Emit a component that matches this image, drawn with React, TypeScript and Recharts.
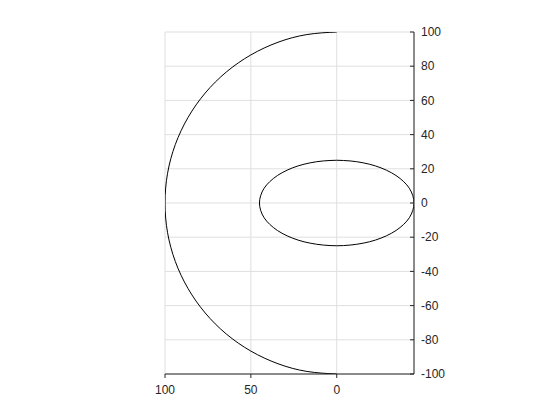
import React from 'react';
import { LineChart, Line, XAxis, YAxis, CartesianGrid } from 'recharts';

// outer arc (radius 100), drawn top to bottom through x = 100
const arcX = [0, 17.4, 34.2, 50, 64.3, 76.6, 86.6, 94.0, 98.5, 100, 98.5, 94.0, 86.6, 76.6, 64.3, 50, 34.2, 17.4, 0];
const arcY = [100, 98.5, 94.0, 86.6, 76.6, 64.3, 50, 34.2, 17.4, 0, -17.4, -34.2, -50, -64.3, -76.6, -86.6, -94.0, -98.5, -100];

// inner ellipse, closed loop
const ellX = [0, 7.8, 15.4, 22.5, 28.9, 34.5, 39.0, 42.3, 44.3, 45, 44.3, 42.3, 39.0, 34.5, 28.9, 22.5, 15.4, 7.8,
  0, -7.8, -15.4, -22.5, -28.9, -34.5, -39.0, -42.3, -44.3, -45, -44.3, -42.3, -39.0, -34.5, -28.9, -22.5, -15.4, -7.8, 0];
const ellY = [25, 24.6, 23.5, 21.7, 19.2, 16.1, 12.5, 8.6, 4.3, 0, -4.3, -8.6, -12.5, -16.1, -19.2, -21.7, -23.5, -24.6,
  -25, -24.6, -23.5, -21.7, -19.2, -16.1, -12.5, -8.6, -4.3, 0, 4.3, 8.6, 12.5, 16.1, 19.2, 21.7, 23.5, 24.6, 25];

const xTicks = [0, 50, 100];
const yTicks = [-100, -80, -60, -40, -20, 0, 20, 40, 60, 80, 100];

const arcData = arcX.map((x, i) => ({ x, y: arcY[i] }));
const ellData = ellX.map((x, i) => ({ x, y: ellY[i] }));

const AXIS = '#262626';
const FONT = '"Liberation Sans", Arial, sans-serif';
const GAP = 7;
const TICK_LEN = 4;

// inward tick marks like matlab, plus the label
const BottomTick = (props: any) => {
  const { x, y, payload } = props;
  const axisY = y - GAP;
  return (
    <g>
      <line x1={x} x2={x} y1={axisY} y2={axisY - TICK_LEN} stroke={AXIS} />
      <text x={x} y={y} dy="0.71em" textAnchor="middle" fill={AXIS} fontSize={12} fontFamily={FONT}>
        {payload.value}
      </text>
    </g>
  );
};

const RightTick = (props: any) => {
  const { x, y, payload } = props;
  const axisX = x - GAP;
  return (
    <g>
      <line x1={axisX} x2={axisX - TICK_LEN} y1={y} y2={y} stroke={AXIS} />
      <text x={x} y={y} dy="0.355em" textAnchor="start" fill={AXIS} fontSize={12} fontFamily={FONT}>
        {payload.value}
      </text>
    </g>
  );
};

export default function App() {
  return (
    <div style={{ position: 'absolute', left: 0, top: 0, width: 560, height: 420, background: '#fff' }}>
      <LineChart width={560} height={420} margin={{ top: 32, right: 106, bottom: 16, left: 165 }}>
        <CartesianGrid stroke="#dfdfdf" strokeWidth={1} />
        <XAxis
          type="number"
          dataKey="x"
          domain={[-45, 100]}
          ticks={xTicks}
          reversed
          allowDataOverflow
          height={30}
          tickSize={0}
          tickLine={false}
          tickMargin={GAP + 4}
          stroke={AXIS}
          tick={(p: any) => <BottomTick {...p} y={p.y} />}
        />
        <YAxis
          type="number"
          dataKey="y"
          orientation="right"
          domain={[-100, 100]}
          ticks={yTicks}
          allowDataOverflow
          width={40}
          tickSize={0}
          tickLine={false}
          tickMargin={GAP}
          stroke={AXIS}
          tick={RightTick}
        />
        <Line data={arcData} dataKey="y" type="natural" stroke="#000" strokeWidth={1} dot={false} isAnimationActive={false} />
        <Line data={ellData} dataKey="y" type="natural" stroke="#000" strokeWidth={1} dot={false} isAnimationActive={false} />
      </LineChart>
    </div>
  );
}
